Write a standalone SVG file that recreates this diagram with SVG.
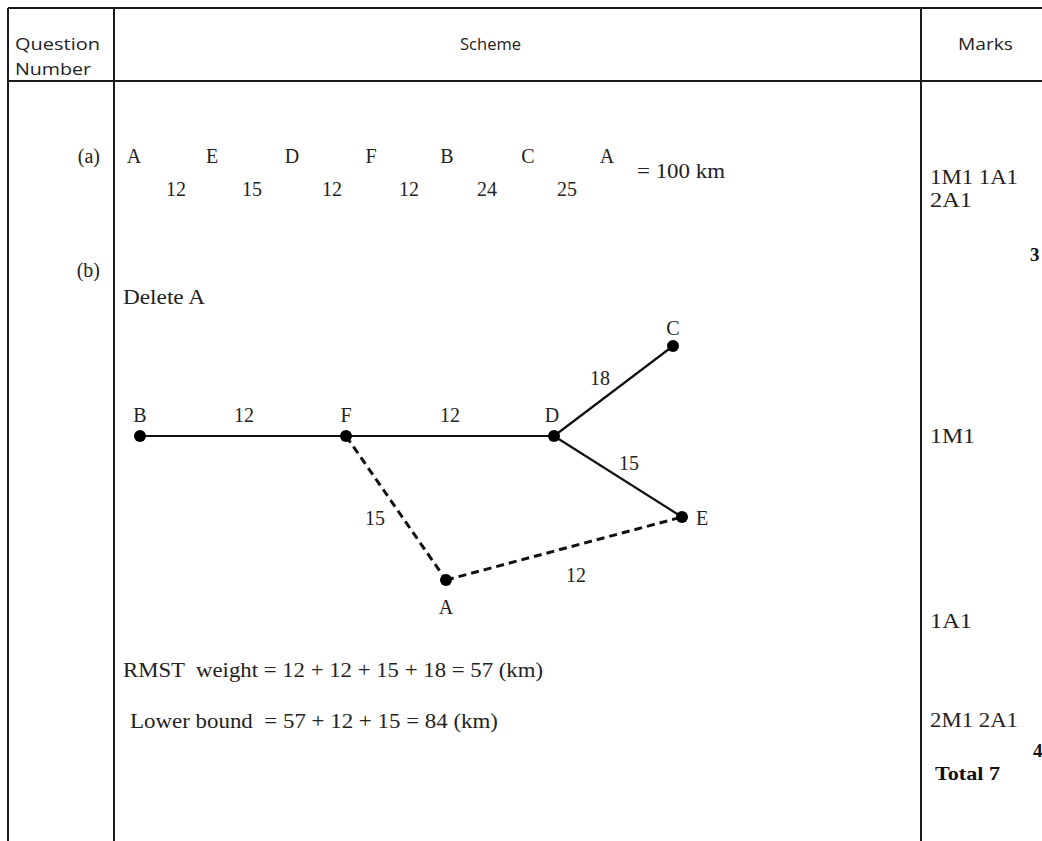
<svg xmlns="http://www.w3.org/2000/svg" width="1042" height="841" viewBox="0 0 1042 841">
<style>
.grid{stroke:#1a1a1a;stroke-width:2;fill:none}
.hd{font-family:"Open Sans","Liberation Sans",sans-serif;font-size:16px;fill:#222}
.t{font-family:"Liberation Serif","Times New Roman",serif;font-size:20px;fill:#222}
.b{font-family:"Liberation Serif","Times New Roman",serif;font-size:19px;font-weight:bold;fill:#111}
.edge{stroke:#111;stroke-width:2.2;fill:none}
.dash{stroke:#111;stroke-width:3;stroke-dasharray:8,5;fill:none}
.dot{fill:#000}
</style>
<rect width="1042" height="841" fill="#fff"/>
<g id="table">
<line class="grid" x1="8" y1="8" x2="1042" y2="8"/>
<line class="grid" x1="8" y1="81" x2="1042" y2="81"/>
<line class="grid" x1="8" y1="8" x2="8" y2="841"/>
<line class="grid" x1="114" y1="8" x2="114" y2="841"/>
<line class="grid" x1="921" y1="8" x2="921" y2="841"/>
<text class="hd" x="15" y="50" textLength="85" lengthAdjust="spacingAndGlyphs">Question</text>
<text class="hd" x="15" y="75" textLength="76" lengthAdjust="spacingAndGlyphs">Number</text>
<text class="hd" x="460" y="50" textLength="61" lengthAdjust="spacingAndGlyphs">Scheme</text>
<text class="hd" x="958" y="50" textLength="55" lengthAdjust="spacingAndGlyphs">Marks</text>
</g>
<g id="part-a">
<text class="t" x="100" y="163" text-anchor="end">(a)</text>
<text class="t" x="134" y="163" text-anchor="middle">A</text>
<text class="t" x="212" y="163" text-anchor="middle">E</text>
<text class="t" x="292" y="163" text-anchor="middle">D</text>
<text class="t" x="371" y="163" text-anchor="middle">F</text>
<text class="t" x="447" y="163" text-anchor="middle">B</text>
<text class="t" x="528" y="163" text-anchor="middle">C</text>
<text class="t" x="607" y="163" text-anchor="middle">A</text>
<text class="t" x="176" y="196" text-anchor="middle">12</text>
<text class="t" x="252" y="196" text-anchor="middle">15</text>
<text class="t" x="332" y="196" text-anchor="middle">12</text>
<text class="t" x="409" y="196" text-anchor="middle">12</text>
<text class="t" x="487" y="196" text-anchor="middle">24</text>
<text class="t" x="567" y="196" text-anchor="middle">25</text>
<text class="t" x="637" y="178" textLength="88" lengthAdjust="spacingAndGlyphs">= 100 km</text>
</g>
<g id="part-b">
<text class="t" x="100" y="277" text-anchor="end">(b)</text>
<text class="t" x="123" y="304" textLength="82" lengthAdjust="spacingAndGlyphs">Delete A</text>
</g>
<g id="connectors">
<line class="edge" x1="140" y1="436" x2="346" y2="436"/>
<line class="edge" x1="346" y1="436" x2="554" y2="436"/>
<line class="edge" x1="554" y1="436" x2="673" y2="346"/>
<line class="edge" x1="554" y1="436" x2="682" y2="517"/>
<line class="dash" x1="346" y1="436" x2="446" y2="580"/>
<line class="dash" x1="446" y1="580" x2="682" y2="517"/>
<text class="t" x="244" y="422" text-anchor="middle">12</text>
<text class="t" x="450" y="422" text-anchor="middle">12</text>
<text class="t" x="600" y="385" text-anchor="middle">18</text>
<text class="t" x="629" y="470" text-anchor="middle">15</text>
<text class="t" x="375" y="525" text-anchor="middle">15</text>
<text class="t" x="576" y="582" text-anchor="middle">12</text>
</g>
<g id="node-B"><circle class="dot" cx="140" cy="436" r="6"/><text class="t" x="140" y="422" text-anchor="middle">B</text></g>
<g id="node-F"><circle class="dot" cx="346" cy="436" r="6"/><text class="t" x="346" y="422" text-anchor="middle">F</text></g>
<g id="node-D"><circle class="dot" cx="554" cy="436" r="6"/><text class="t" x="552" y="422" text-anchor="middle">D</text></g>
<g id="node-C"><circle class="dot" cx="673" cy="346" r="6"/><text class="t" x="673" y="335" text-anchor="middle">C</text></g>
<g id="node-E"><circle class="dot" cx="682" cy="517" r="6"/><text class="t" x="702" y="525" text-anchor="middle">E</text></g>
<g id="node-A"><circle class="dot" cx="446" cy="580" r="6"/><text class="t" x="446" y="614" text-anchor="middle">A</text></g>
<g id="calc">
<text class="t" x="123" y="677" textLength="420" lengthAdjust="spacingAndGlyphs" xml:space="preserve">RMST  weight = 12 + 12 + 15 + 18 = 57 (km)</text>
<text class="t" x="130" y="728" textLength="368" lengthAdjust="spacingAndGlyphs" xml:space="preserve">Lower bound  = 57 + 12 + 15 = 84 (km)</text>
</g>
<g id="marks">
<text class="t" x="930" y="184" textLength="88" lengthAdjust="spacingAndGlyphs">1M1 1A1</text>
<text class="t" x="930" y="207" textLength="42" lengthAdjust="spacingAndGlyphs">2A1</text>
<text class="b" x="1030" y="261">3</text>
<text class="t" x="930" y="443" textLength="45" lengthAdjust="spacingAndGlyphs">1M1</text>
<text class="t" x="930" y="628" textLength="42" lengthAdjust="spacingAndGlyphs">1A1</text>
<text class="t" x="930" y="727" textLength="88" lengthAdjust="spacingAndGlyphs">2M1 2A1</text>
<text class="b" x="1033" y="757">4</text>
<text class="b" x="935" y="780" textLength="65" lengthAdjust="spacingAndGlyphs">Total 7</text>
</g>
</svg>
